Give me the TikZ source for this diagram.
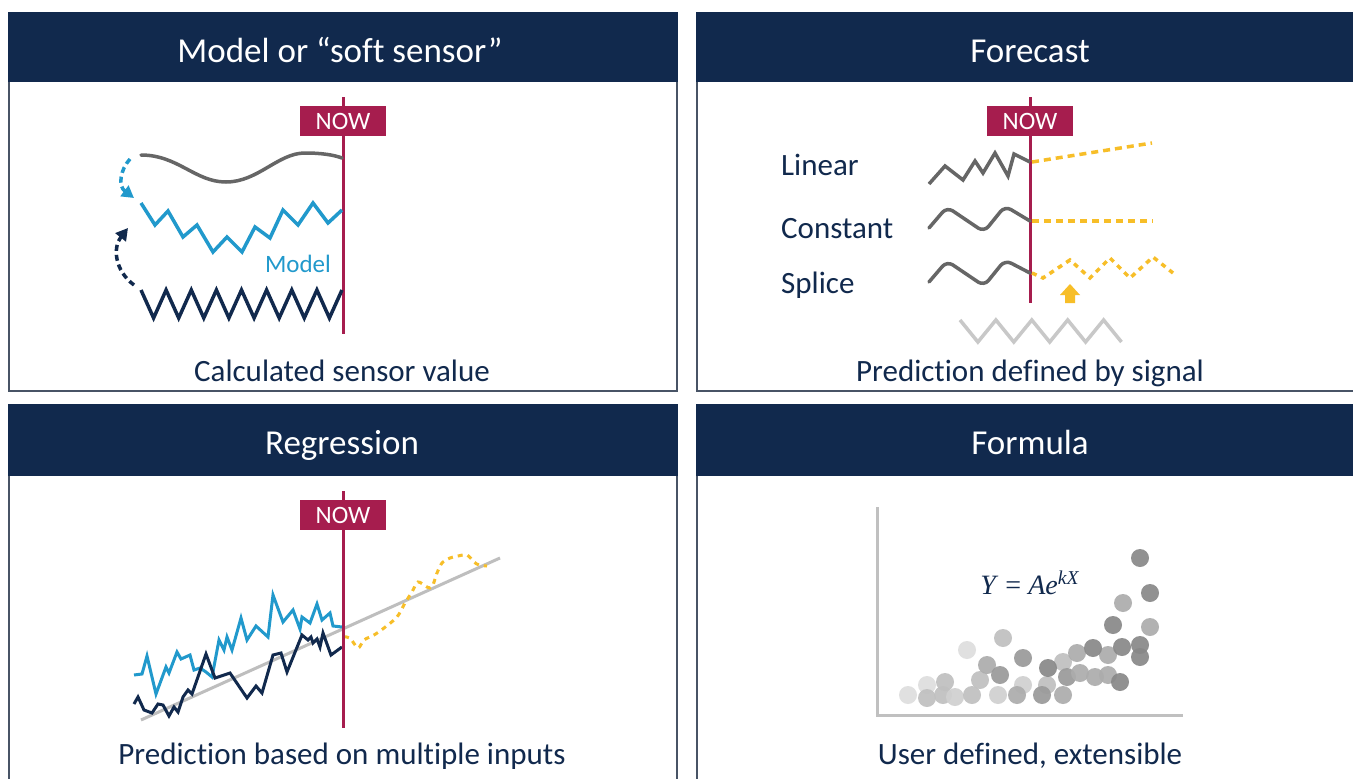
\documentclass[tikz,border=0pt]{standalone}
\usepackage{fontspec}
\setmainfont[Ligatures=NoCommon]{Carlito}
\newfontfamily\formulafont{Liberation Serif}
\usetikzlibrary{arrows.meta}

\definecolor{navy}{RGB}{17,41,77}
\definecolor{framegray}{RGB}{72,84,102}
\definecolor{nowred}{RGB}{166,29,78}
\definecolor{skyblue}{RGB}{33,153,204}
\definecolor{wavegray}{RGB}{102,102,102}
\definecolor{fcyellow}{RGB}{247,190,40}
\definecolor{palegray}{RGB}{200,200,200}
\definecolor{trendgray}{RGB}{190,190,190}
\definecolor{axisgray}{RGB}{192,192,192}
\definecolor{s1}{RGB}{136,136,136}
\definecolor{s2}{RGB}{154,154,154}
\definecolor{s3}{RGB}{172,172,172}
\definecolor{s4}{RGB}{192,192,192}
\definecolor{s5}{RGB}{208,208,208}
\definecolor{s6}{RGB}{222,222,222}

\tikzset{
  panel/.style={draw=framegray, line width=2.5pt, fill=white},
  header/.style={fill=navy},
  titletext/.style={text=white, font=\fontsize{35}{40}\selectfont, anchor=base, inner sep=0pt},
  captiontext/.style={text=navy, font=\fontsize{31}{36}\selectfont, anchor=base, inner sep=0pt},
  methodtext/.style={text=navy, font=\fontsize{31}{36}\selectfont, anchor=base west, inner sep=0pt},
  nowline/.style={draw=nowred, line width=3pt},
  nowbox/.style={fill=nowred, text=white, font=\fontsize{25}{28}\selectfont,
                 minimum width=86pt, minimum height=30pt, inner sep=0pt},
  graywave/.style={draw=wavegray, line width=3.5pt, line cap=round, line join=round},
  bluesig/.style={draw=skyblue, line width=3.5pt, line join=miter},
  navysig/.style={draw=navy, line width=3.5pt, line join=miter},
  fcline/.style={draw=fcyellow, line width=3.5pt, dash pattern=on 7pt off 5pt},
  fcdots/.style={draw=fcyellow, line width=3.5pt, dash pattern=on 5pt off 5pt},
  loopback/.style={line width=3.5pt, dash pattern=on 6pt off 4pt,
                   -{Triangle[length=12pt,width=13pt]}},
  dot/.style={opacity=0.92},
}

\begin{document}
\begin{tikzpicture}[x=1pt, y=-1pt]
\useasboundingbox (0,0) rectangle (1353,779);
\clip (0,0) rectangle (1353,779);

% ---------- four panels ----------
\draw[panel] (9,13) rectangle (677,391);
\fill[header] (8,12) rectangle (678,82);
\draw[panel] (697,13) rectangle (1365,391);
\fill[header] (696,12) rectangle (1365,82);
\draw[panel] (9,405) rectangle (677,800);
\fill[header] (8,404) rectangle (678,476);
\draw[panel] (697,405) rectangle (1365,800);
\fill[header] (696,404) rectangle (1365,476);

\node[titletext] (t1) at (340,62) {Model or “soft sensor”};
\node[titletext] (t2) at (1030,62) {Forecast};
\node[titletext] (t3) at (342,454) {Regression};
\node[titletext] (t4) at (1030,454) {Formula};

\node[captiontext] (c1) at (342,381) {Calculated sensor value};
\node[captiontext] (c2) at (1030,381) {Prediction defined by signal};
\node[captiontext] (c3) at (342,764) {Prediction based on multiple inputs};
\node[captiontext] (c4) at (1030,764) {User defined, extensible};

% ---------- soft sensor panel ----------
\draw[nowline] (343,97) -- (343,334);
\node[nowbox] (now1) at (343,121) {NOW};

\draw[graywave] (141,155) .. controls (178,155) and (195,182) .. (226,182)
  .. controls (258,182) and (278,153) .. (305,153)
  .. controls (322,153) and (334,155) .. (342,158);

\draw[bluesig] plot coordinates {(141,203) (155,225) (168,211) (183,237) (197,225)
  (213,252) (227,237) (242,252) (255,227) (270,238) (283,210) (298,225)
  (313,203) (328,223) (342,210)};

\node[text=skyblue, font=\fontsize{25}{30}\selectfont, anchor=base, inner sep=0pt]
  (modellbl) at (298,272) {Model};

\draw[navysig] plot coordinates {(141,290) (153.6,318) (166.1,290) (178.7,318)
  (191.3,290) (203.8,318) (216.4,290) (228.9,318) (241.5,290) (254.1,318)
  (266.6,290) (279.2,318) (291.8,290) (304.3,318) (316.9,290) (329.4,318) (342,290)};

% dotted loop-back arrows between the signals
\coordinate (srcTop) at (130,159);
\coordinate (dstModel) at (134,198);
\coordinate (srcBottom) at (134,285);
\coordinate (dstUp) at (128,228);
\draw[loopback, draw=skyblue] (srcTop) .. controls (120,170) and (118,186) .. (dstModel);
\draw[loopback, draw=navy] (srcBottom) .. controls (114,270) and (113,247) .. (dstUp);

% ---------- forecast panel ----------
\draw[nowline] (1030,97) -- (1030,303);
\node[nowbox] (now2) at (1030,121) {NOW};

\node[methodtext] (lin) at (781,175) {Linear};
\node[methodtext] (con) at (781,238) {Constant};
\node[methodtext] (spl) at (781,293) {Splice};

\draw[graywave, line join=miter, line cap=butt] plot coordinates {(929,184) (945,166) (963,180) (975,161)
  (983,173) (995,153) (1008,176) (1014,154) (1030,162)};
\draw[fcline] (1032,162) -- (1152,143);

\draw[graywave, rounded corners=7pt] (929,228) -- (947,207) -- (984,232)
  -- (1005,206) -- (1030,221);
\draw[fcline] (1032,221) -- (1153,221);

\draw[graywave, rounded corners=7pt] (929,282) -- (947,261) -- (984,286)
  -- (1005,260) -- (1030,273);
\draw[fcdots] plot coordinates {(1032,273) (1043,278) (1070,260) (1090,278)
  (1110,258) (1130,278) (1153,257) (1173,273)};

\fill[fcyellow] (1070,284) -- (1080,295) -- (1075,295) -- (1075,303)
  -- (1065,303) -- (1065,295) -- (1060,295) -- cycle;

\draw[draw=palegray, line width=3.5pt, line join=miter] plot coordinates {(960,320) (977.9,342)
  (995.9,320) (1013.8,342) (1031.8,320) (1049.7,342) (1067.7,320) (1085.6,342)
  (1103.6,320) (1121.5,342)};

% ---------- regression panel ----------
\draw[draw=trendgray, line width=3pt] (141,720) -- (500,558);

\draw[bluesig, line width=3pt] plot coordinates {(134,675) (142,674) (147,656) (156,694)
  (166,667) (169,673) (177,652) (181,659) (190,655) (194,670) (200,668) (206,672)
  (212,677) (219,640) (224,650) (227,637) (232,650) (241,618) (247,640) (256,626)
  (268,637) (273,595) (283,622) (293,610) (300,629) (302,617) (310,623) (317,604)
  (322,620) (330,613) (333,626) (342,627)};

\draw[navysig, line width=3pt] plot coordinates {(134,704) (138,697) (144,710) (152,713)
  (158,704) (163,705) (169,716) (174,707) (178,712) (183,697) (188,690) (192,694)
  (206,654) (215,678) (230,673) (247,698) (256,686) (262,693) (273,655) (281,653)
  (287,672) (302,635) (308,640) (311,637) (313,643) (317,639) (320,647) (323,633)
  (331,655) (342,647)};

\draw[fcdots, line width=3pt] plot[smooth, tension=0.5] coordinates {(344,637) (350,638) (358,648)
  (364,640) (374,635) (384,628) (397,617) (405,603) (412,592) (418,582) (427,587)
  (432,587) (437,573) (442,563) (450,558) (458,556) (467,555) (474,562) (479,565) (487,566)};

\draw[nowline] (343,491) -- (343,728);
\node[nowbox] (now3) at (343,515) {NOW};

% ---------- formula panel ----------
\draw[draw=axisgray, line width=3pt] (877,507) -- (877,715) -- (1183,715);

\foreach \px/\py/\shade in {
  908/695/s6, 927/685/s6, 967/650/s6, 927/698/s4, 943/695/s4, 945/682/s4,
  955/697/s5, 972/695/s4, 980/680/s4, 998/695/s5, 1003/638/s4, 987/665/s3,
  1000/675/s2, 1023/685/s5, 1017/695/s3, 1023/658/s2, 1047/685/s4, 1042/695/s2,
  1063/695/s3, 1063/662/s4, 1048/668/s1, 1077/653/s3, 1067/677/s2, 1080/673/s3,
  1095/677/s3, 1108/675/s3, 1120/682/s1, 1108/655/s3, 1093/648/s1, 1122/647/s1,
  1140/645/s1, 1140/657/s1, 1113/625/s1, 1150/627/s3, 1123/603/s3, 1150/593/s1,
  1140/558/s1}
  \fill[dot, fill=\shade] (\px,\py) circle (9);

\node[text=navy, font=\formulafont\fontsize{28}{32}\selectfont, anchor=base, inner sep=0pt]
  (formula) at (1030,594) {\textit{Y} = \textit{Ae}\textsuperscript{\textit{kX}}};

\end{tikzpicture}
\end{document}
